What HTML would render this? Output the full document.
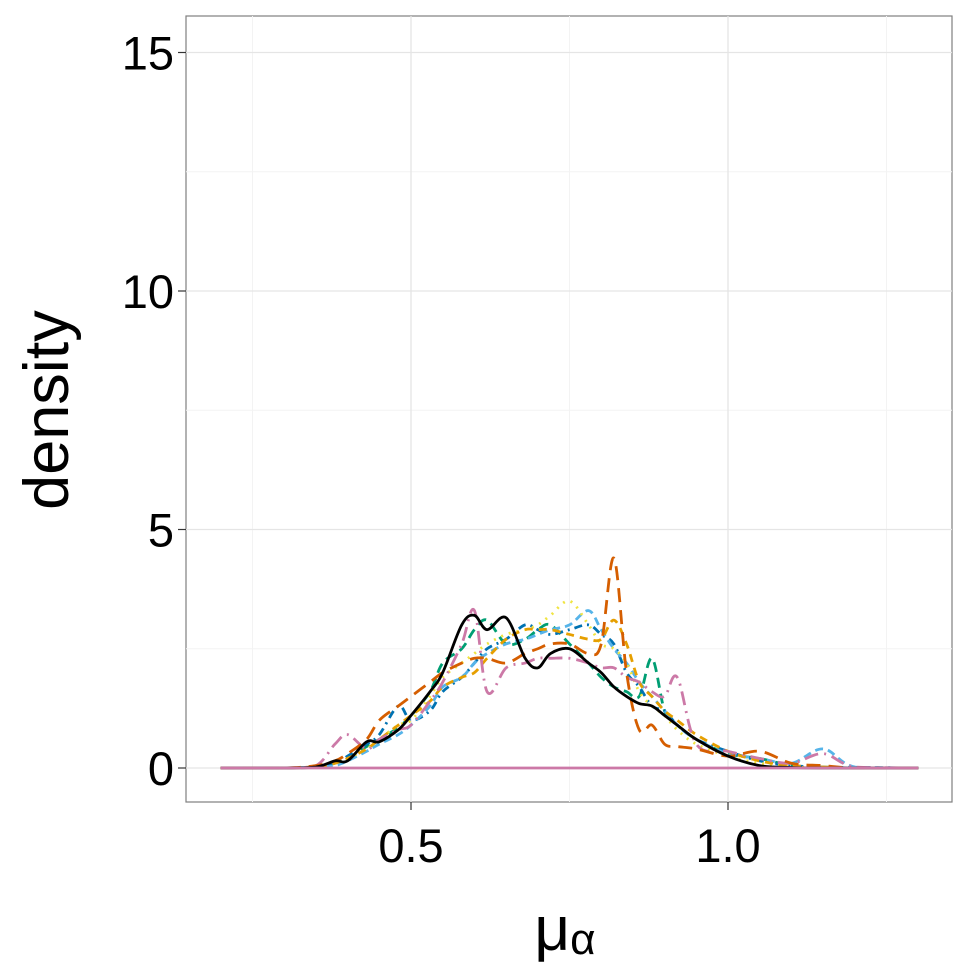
<!DOCTYPE html>
<html><head><meta charset="utf-8"><style>
body{margin:0;background:#fff;}
svg{display:block;font-family:"Liberation Sans",sans-serif;}
</style></head><body>
<svg id="chart" width="969" height="969">
<rect x="186" y="16" width="766" height="786" fill="#fff" stroke="#7f7f7f" stroke-width="1.2"/>
<g id="grid"></g><g id="series"></g><g id="axes"></g>
<text x="68" y="410" font-size="63" text-anchor="middle" transform="rotate(-90 68 410)">density</text>
<text x="565" y="950" font-size="62" text-anchor="middle">μ<tspan font-size="44" dy="4">α</tspan></text>
</svg>
<script>
const xs=[0.20,0.30,0.35,0.38,0.40,0.43,0.45,0.48,0.50,0.53,0.55,0.58,0.60,0.62,0.65,0.68,0.70,0.72,0.75,0.78,0.80,0.82,0.84,0.86,0.88,0.90,0.92,0.95,1.00,1.05,1.10,1.15,1.20,1.30];
const blackVals=[0,0,0.02,0.15,0.15,0.55,0.55,0.8,1.1,1.6,2.0,3.0,3.2,2.9,3.15,2.3,2.1,2.4,2.5,2.2,2.0,1.7,1.5,1.35,1.3,1.1,0.9,0.6,0.25,0.05,0.01,0,0,0];
const vermVals=[0,0,0.05,0.15,0.3,0.6,1.0,1.3,1.5,1.8,2.0,2.2,2.3,2.3,2.2,2.4,2.5,2.6,2.6,2.4,2.6,4.4,2.0,0.8,0.9,0.5,0.45,0.4,0.25,0.35,0.1,0.05,0,0];
const orangeVals=[0,0,0.03,0.1,0.2,0.4,0.6,0.9,1.1,1.4,1.7,1.9,2.0,2.3,2.7,2.9,2.9,2.9,2.8,2.7,2.7,3.1,2.6,1.8,1.5,1.2,1.0,0.7,0.35,0.15,0.05,0.02,0,0];
const yellowVals=[0,0,0.02,0.1,0.2,0.4,0.6,0.9,1.0,1.5,1.9,2.2,2.4,2.6,2.8,2.9,3.0,3.2,3.5,3.0,2.6,2.5,2.2,1.6,1.3,1.1,0.8,0.5,0.25,0.1,0.03,0,0,0];
const skyVals=[0,0,0.02,0.05,0.15,0.35,0.5,0.7,0.9,1.3,1.7,1.9,2.2,2.4,2.6,2.7,2.8,2.9,3.0,3.3,2.9,2.5,2.2,1.8,1.5,1.2,0.9,0.6,0.3,0.2,0.1,0.4,0.02,0];
const greenVals=[0,0,0.02,0.1,0.2,0.45,0.6,0.85,1.1,1.6,2.2,2.5,2.9,3.1,2.6,2.7,2.9,3.0,2.6,2.2,1.9,1.7,1.6,1.5,2.3,1.2,0.9,0.6,0.3,0.2,0.05,0.02,0,0];
const blueVals=[0,0,0.03,0.1,0.25,0.5,0.7,1.3,1.0,1.2,1.6,1.9,2.2,2.5,2.7,3.0,2.9,2.8,2.9,3.0,2.8,2.6,2.0,1.7,1.3,1.2,0.9,0.6,0.35,0.15,0.05,0.02,0.01,0];
const pinkVals=[0,0,0.05,0.5,0.7,0.4,0.6,0.8,0.9,1.4,1.8,2.6,3.3,1.6,2.1,2.2,2.3,2.3,2.3,2.2,2.1,2.1,1.9,1.8,1.6,1.5,1.9,0.5,0.35,0.2,0.1,0.3,0.02,0];
const yTicks=[0,5,10,15];
const yTickLabels=["0","5","10","15"];
const xTicks=[0.5,1.0];
const xTickLabels=["0.5","1.0"];
const yMinor=[2.5,7.5,12.5];
const xMinor=[0.25,0.75,1.25];

const X=v=>411+(v-0.5)*634;
const Y=v=>768-v*47.7;
const NS="http://www.w3.org/2000/svg";
const g=document.getElementById('grid'),sg=document.getElementById('series'),ag=document.getElementById('axes');
function mk(tag,attrs,parent){const e=document.createElementNS(NS,tag);for(const k in attrs)e.setAttribute(k,attrs[k]);parent.appendChild(e);return e;}
xMinor.forEach(v=>{const l=mk('line',{x1:X(v),x2:X(v),y1:16,y2:802,stroke:'#f3f3f3','stroke-width':1},g);

});
yMinor.forEach(v=>{const l=mk('line',{x1:186,x2:952,y1:Y(v),y2:Y(v),stroke:'#f3f3f3','stroke-width':1},g);

});
xTicks.forEach((v,i)=>{const l=mk('line',{x1:X(v),x2:X(v),y1:16,y2:802,stroke:'#e5e5e5','stroke-width':1.3},g);


const t=mk('line',{x1:X(v),x2:X(v),y1:802,y2:810,stroke:'#333','stroke-width':1.2},ag);


const tx=mk('text',{x:X(v),y:862,'font-size':47,'text-anchor':'middle',fill:'#000'},ag);tx.textContent=xTickLabels[i];

});
yTicks.forEach((v,i)=>{const l=mk('line',{x1:186,x2:952,y1:Y(v),y2:Y(v),stroke:'#e5e5e5','stroke-width':1.3},g);


const t=mk('line',{x1:178,x2:186,y1:Y(v),y2:Y(v),stroke:'#333','stroke-width':1.2},ag);


const tx=mk('text',{x:174,y:Y(v)+17,'font-size':47,'text-anchor':'end',fill:'#000'},ag);tx.textContent=yTickLabels[i];

});
function pathD(vals){const p=xs.map((x,i)=>[X(x),Y(vals[i])]);let d='M'+p[0][0]+','+p[0][1];
for(let i=0;i<p.length-1;i++){const p0=p[Math.max(0,i-1)],p1=p[i],p2=p[i+1],p3=p[Math.min(p.length-1,i+2)];
const c1=[p1[0]+(p2[0]-p0[0])/6,p1[1]+(p2[1]-p0[1])/6],c2=[p2[0]-(p3[0]-p1[0])/6,p2[1]-(p3[1]-p1[1])/6];
d+=`C${c1[0]},${Math.min(c1[1],768)},${c2[0]},${Math.min(c2[1],768)},${p2[0]},${p2[1]}`;}return d;}
const series=[
[greenVals,'#009E73','10,6','series-green'],
[blueVals,'#0072B2','2,5,8,5','series-blue'],
[skyVals,'#56B4E9','8,5','series-skyblue'],
[yellowVals,'#F0E442','2,6','series-yellow'],
[orangeVals,'#E69F00','8,6','series-orange'],
[pinkVals,'#CC79A7','2,6,14,6','series-pink'],
[vermVals,'#D55E00','14,8','series-vermillion'],
[blackVals,'#000','none','series-black']];
series.forEach(s=>{const p=mk('path',{d:pathD(s[0]),fill:'none',stroke:s[1],'stroke-width':2.8,'stroke-dasharray':s[2],'stroke-linejoin':'round'},sg);

});
const base=mk('line',{x1:X(0.2),x2:X(1.3),y1:Y(0),y2:Y(0),stroke:'#CC79A7','stroke-width':2.8},sg);


</script>
</body></html>
